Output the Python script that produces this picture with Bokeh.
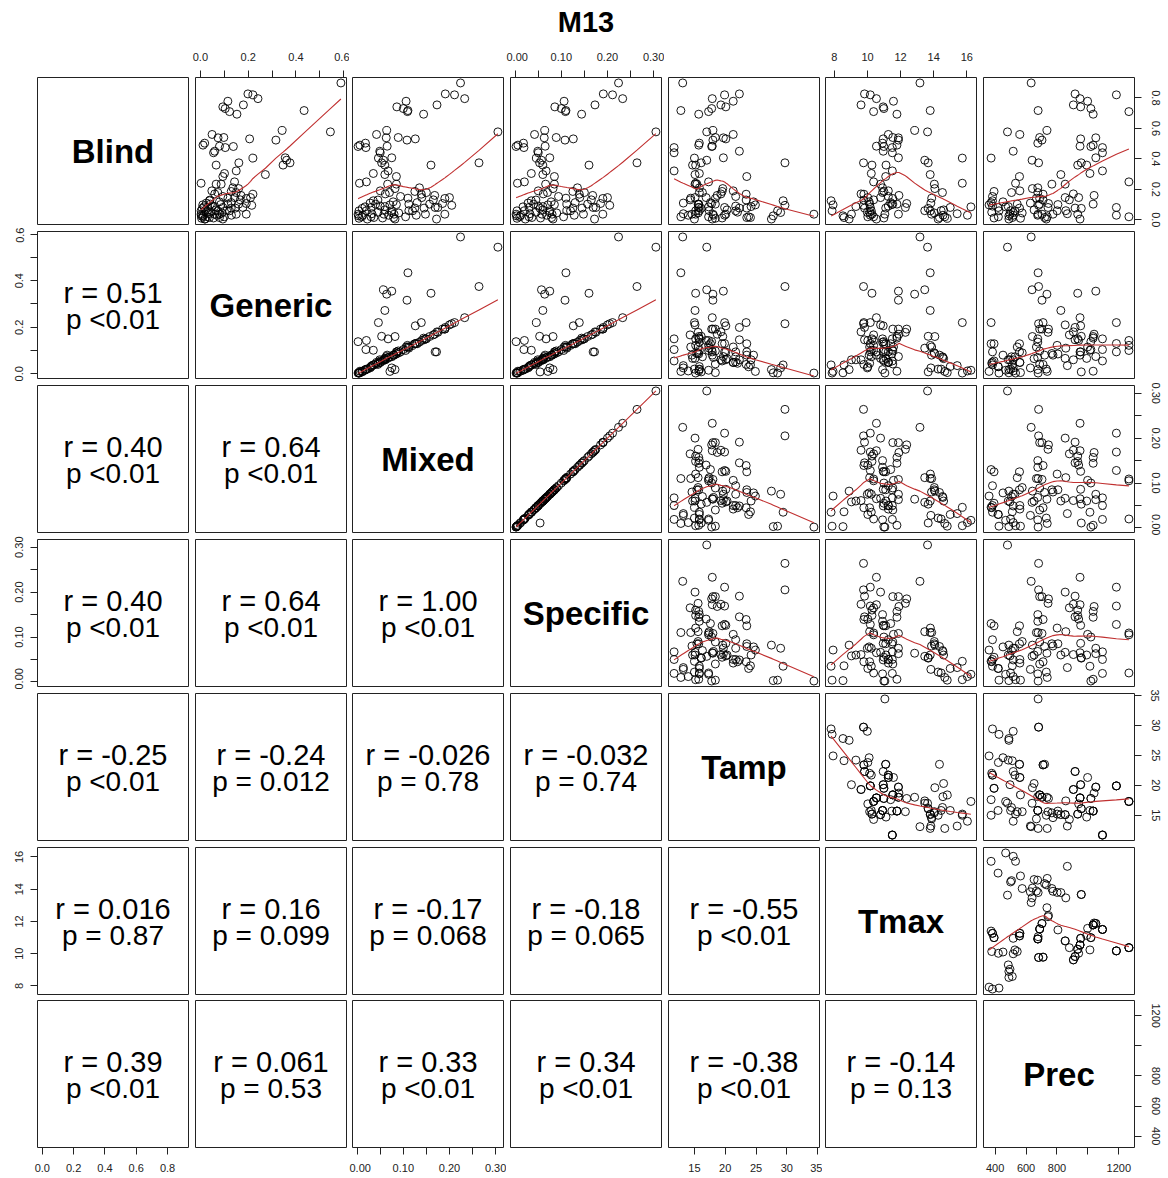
import numpy as np
from bokeh.plotting import figure
from bokeh.layouts import gridplot, column
from bokeh.models import Range1d, LinearAxis, FixedTicker
from bokeh.core.properties import value
from bokeh.embed import file_html
from bokeh.resources import INLINE

FONT = "Liberation Sans"
title_text = "M13"
names = ["Blind", "Generic", "Mixed", "Specific", "Tamp", "Tmax", "Prec"]

# ---- climate values per site ----
site_prec = [361, 383, 425, 374, 383, 393, 378, 421, 374, 419,
             451, 468, 517, 532, 506, 500, 489, 489, 511, 485,
             496, 517, 528, 543, 517, 558, 560, 564, 575, 480,
             628, 639, 633, 667, 678, 675, 720, 767, 735, 742,
             825, 857, 867, 957, 678, 676, 688, 703, 681, 710,
             806, 853, 880, 906, 917, 934, 949, 953, 992, 1019,
             998, 1034, 1051, 1094, 1013, 940, 1184, 1265, 1040, 641,
             652, 731, 737, 774, 801, 745]
site_tmax = [7.92, 7.80, 7.86, 11.40, 11.26, 10.99, 10.13, 10.02, 15.73, 15.00,
             10.10, 16.25, 16.04, 15.73, 14.53, 14.45, 8.52, 8.89, 8.58, 9.30,
             9.03, 9.99, 10.23, 10.13, 10.95, 11.10, 11.26, 14.82, 14.04, 13.63,
             13.83, 13.46, 13.17, 13.88, 13.79, 14.56, 14.35, 14.04, 12.85, 12.29,
             13.79, 13.46, 15.42, 13.67, 11.05, 10.91, 11.53, 11.87, 9.76, 9.78,
             11.47, 10.79, 10.37, 9.61, 9.82, 10.27, 10.54, 10.95, 11.12, 10.99,
             11.57, 11.78, 11.87, 11.50, 10.23, 10.02, 10.17, 10.37, 11.90, 14.07,
             14.60, 14.27, 14.67, 13.87, 13.80, 12.37]
site_tamp = [24.9, 29.4, 28.5, 17.6, 21.7, 19.5, 22.0, 23.8, 15.0, 15.8,
             24.6, 17.3, 14.0, 15.2, 16.3, 15.8, 27.8, 27.5, 24.1, 24.2,
             20.1, 29.0, 21.7, 15.6, 22.3, 23.5, 21.3, 18.4, 15.6, 17.0,
             13.2, 17.0, 13.1, 14.4, 12.8, 18.1, 23.5, 15.4, 18.0, 15.6,
             15.1, 17.4, 13.2, 16.1, 34.4, 15.8, 18.4, 18.0, 29.7, 23.4,
             15.7, 15.1, 14.3, 19.3, 22.3, 15.2, 17.9, 20.1, 14.7, 17.8,
             21.3, 15.7, 19.7, 11.7, 15.8, 16.9, 19.9, 17.3, 18.7, 19.6,
             20.3, 15.0, 12.8, 14.6, 15.2, 17.8]

# ---- observations ----
obs_site = [32, 54, 66, 56, 60, 53, 57, 59, 67, 61, 34,
            29, 38, 47, 26, 62, 46, 57, 45, 61, 56, 63, 59, 24, 63,
            8, 62, 31, 48, 55, 43, 58, 63, 64, 25, 40, 13, 51, 37, 67,
            69, 26, 14, 5, 49, 51, 4, 33, 65, 52, 46, 1, 10, 3, 61,
            75, 0, 19, 66, 25, 55, 47, 56, 2, 16, 17, 18, 20, 21, 22,
            23, 9, 54, 39, 45, 44, 72, 73, 74, 36, 68, 45, 53, 46,
            27, 12, 15, 7, 6, 4, 70, 30, 28, 67, 43, 42, 5, 35,
            41, 11, 49, 50, 71, 66, 48]
blind = [0.898, 0.826, 0.820, 0.795, 0.778, 0.754, 0.741, 0.730, 0.710, 0.693, 0.717,
         0.577, 0.586, 0.523, 0.560, 0.538, 0.540, 0.531, 0.503, 0.490, 0.483, 0.474, 0.481, 0.450, 0.440,
         0.405, 0.407, 0.391, 0.374, 0.359, 0.374, 0.359, 0.321, 0.304, 0.284, 0.297, 0.240, 0.234, 0.234, 0.249,
         0.205, 0.190, 0.179, 0.186, 0.168, 0.146, 0.153, 0.142, 0.146, 0.131, 0.140, 0.125, 0.118, 0.113, 0.103,
         0.107, 0.098, 0.087, 0.081, 0.077, 0.037, 0.037, 0.005, 0.059, 0.026, 0.005, 0.015, 0.037, 0.048, 0.059,
         0.103, 0.081, 0.077, 0.081, 0.179, 0.037, 0.020, 0.037, 0.059, 0.015, 0.160, 0.210, 0.170, 0.103,
         0.010, 0.030, 0.060, 0.020, 0.050, 0.090, 0.065, 0.110, 0.045, 0.020, 0.075, 0.040, 0.012, 0.030,
         0.060, 0.085, 0.130, 0.100, 0.005, 0.030, 0.095]
generic = [0.588, 0.199, 0.220, 0.241, 0.115, 0.180, 0.094, 0.104, 0.122, 0.153, 0.434,
           0.544, 0.342, 0.316, 0.049, 0.074, 0.098, 0.206, 0.018, 0.011, 0.080, 0.104, 0.138, 0.060, 0.055,
           0.220, 0.355, 0.361, 0.375, 0.346, 0.161, 0.066, 0.150, 0.101, 0.094, 0.272, 0.003, 0.066, 0.087, 0.143,
           0.160, 0.048, 0.073, 0.129, 0.220, 0.210, 0.094, 0.115, 0.143, 0.167, 0.192, 0.038, 0.080, 0.129, 0.160,
           0.192, 0.010, 0.060, 0.094, 0.129, 0.150, 0.192, 0.094, 0.003, 0.004, 0.018, 0.038, 0.060, 0.025, 0.073,
           0.115, 0.031, 0.146, 0.178, 0.150, 0.003, 0.010, 0.080, 0.122, 0.080, 0.170, 0.136, 0.060, 0.042,
           0.005, 0.012, 0.020, 0.030, 0.045, 0.050, 0.065, 0.025, 0.090, 0.100, 0.008, 0.035, 0.055, 0.070,
           0.110, 0.015, 0.040, 0.085, 0.020, 0.130, 0.215]
mixed = [0.224, 0.191, 0.211, 0.233, 0.106, 0.173, 0.086, 0.100, 0.109, 0.144, 0.110,
         0.305, 0.064, 0.108, 0.042, 0.063, 0.089, 0.126, 0.018, 0.006, 0.065, 0.019, 0.002, 0.049, 0.050,
         0.046, 0.075, 0.057, 0.264, 0.160, 0.053, 0.060, 0.067, 0.035, 0.085, 0.060, 0.005, 0.066, 0.085, 0.020,
         0.082, 0.050, 0.070, 0.125, 0.139, 0.200, 0.094, 0.110, 0.140, 0.165, 0.190, 0.035, 0.078, 0.130, 0.157,
         0.185, 0.071, 0.060, 0.169, 0.125, 0.148, 0.190, 0.172, 0.004, 0.003, 0.082, 0.036, 0.058, 0.075, 0.075,
         0.112, 0.030, 0.145, 0.175, 0.150, 0.002, 0.010, 0.080, 0.120, 0.079, 0.168, 0.135, 0.061, 0.040,
         0.004, 0.012, 0.020, 0.030, 0.045, 0.050, 0.060, 0.028, 0.090, 0.105, 0.011, 0.032, 0.055, 0.068,
         0.112, 0.017, 0.045, 0.085, 0.022, 0.128, 0.205]
specific = [0.224, 0.191, 0.211, 0.233, 0.106, 0.173, 0.086, 0.100, 0.109, 0.144, 0.110,
            0.305, 0.064, 0.108, 0.042, 0.063, 0.089, 0.126, 0.018, 0.006, 0.065, 0.019, 0.002, 0.049, 0.050,
            0.046, 0.075, 0.057, 0.264, 0.160, 0.053, 0.060, 0.067, 0.035, 0.085, 0.060, 0.005, 0.066, 0.085, 0.020,
            0.082, 0.050, 0.070, 0.125, 0.139, 0.200, 0.094, 0.110, 0.140, 0.165, 0.190, 0.035, 0.078, 0.130, 0.157,
            0.185, 0.071, 0.060, 0.169, 0.125, 0.148, 0.190, 0.172, 0.004, 0.003, 0.082, 0.036, 0.058, 0.075, 0.075,
            0.112, 0.030, 0.145, 0.175, 0.150, 0.002, 0.010, 0.080, 0.120, 0.079, 0.168, 0.135, 0.061, 0.040,
            0.004, 0.012, 0.020, 0.030, 0.045, 0.050, 0.060, 0.028, 0.090, 0.105, 0.054, 0.032, 0.055, 0.068,
            0.112, 0.017, 0.045, 0.085, 0.022, 0.128, 0.205]

# ---- correlation texts (lower triangle, row by row) ----
r_text = ["0.51",
          "0.40", "0.64",
          "0.40", "0.64", "1.00",
          "-0.25", "-0.24", "-0.026", "-0.032",
          "0.016", "0.16", "-0.17", "-0.18", "-0.55",
          "0.39", "0.061", "0.33", "0.34", "-0.38", "-0.14"]
p_text = ["<0.01",
          "<0.01", "<0.01",
          "<0.01", "<0.01", "<0.01",
          "<0.01", "= 0.012", "= 0.78", "= 0.74",
          "= 0.87", "= 0.099", "= 0.068", "= 0.065", "<0.01",
          "<0.01", "= 0.53", "<0.01", "<0.01", "<0.01", "= 0.13"]

# ---- axis ticks ----
axis_ticks = {
    "Blind": ([0.0, 0.2, 0.4, 0.6, 0.8], ["0.0", "0.2", "0.4", "0.6", "0.8"]),
    "Generic": ([0.0, 0.1, 0.2, 0.3, 0.4, 0.5, 0.6], ["0.0", "", "0.2", "", "0.4", "", "0.6"]),
    "Mixed": ([0.0, 0.05, 0.1, 0.15, 0.2, 0.25, 0.3], ["0.00", "", "0.10", "", "0.20", "", "0.30"]),
    "Specific": ([0.0, 0.05, 0.1, 0.15, 0.2, 0.25, 0.3], ["0.00", "", "0.10", "", "0.20", "", "0.30"]),
    "Tamp": ([15, 20, 25, 30, 35], ["15", "20", "25", "30", "35"]),
    "Tmax": ([8, 10, 12, 14, 16], ["8", "10", "12", "14", "16"]),
    "Prec": ([400, 600, 800, 1000, 1200], ["400", "600", "800", "", "1200"]),
}

idx = np.array(obs_site)
data = [np.array(blind, float), np.array(generic, float), np.array(mixed, float),
        np.array(specific, float), np.array(site_tamp, float)[idx],
        np.array(site_tmax, float)[idx], np.array(site_prec, float)[idx]]

lims = []
for v in data:
    lo, hi = float(v.min()), float(v.max())
    pad = 0.04 * (hi - lo)
    lims.append((lo - pad, hi + pad))


def lowess(x, y, f=2.0 / 3.0, it=3):
    o = np.argsort(x, kind="mergesort")
    x = np.asarray(x, float)[o]
    y = np.asarray(y, float)[o]
    n = len(x)
    ns = max(2, min(n, int(f * n + 1e-7)))
    rw = np.ones(n)
    fit = np.zeros(n)
    rng = x[-1] - x[0]
    for k in range(it + 1):
        for i in range(n):
            d = np.abs(x - x[i])
            h = max(np.sort(d)[ns - 1], 1e-12)
            u = d / h
            w = np.where(u < 0.999, (1 - u ** 3) ** 3, 0.0)
            w = np.where(u <= 0.001, 1.0, w) * rw
            sw = w.sum()
            if sw <= 0:
                fit[i] = y[i]
                continue
            w = w / sw
            xm = (w * x).sum()
            ym = (w * y).sum()
            b = (w * (x - xm) ** 2).sum()
            if np.sqrt(b) > 0.001 * rng:
                fit[i] = ym + (w * (x - xm) * (y - ym)).sum() / b * (x[i] - xm)
            else:
                fit[i] = ym
        if k == it:
            break
        res = np.abs(y - fit)
        cmad = 6 * np.median(res)
        if cmad < 1e-12:
            break
        u = res / cmad
        rw = np.where(u < 1, (1 - u ** 2) ** 2, 0.0)
    return x, fit


STANDOFF = {"above": 10, "below": 9, "left": 7, "right": 10}


def add_axis(p, var, side):
    t, labs = axis_ticks[var]
    ax = LinearAxis(ticker=FixedTicker(ticks=t, minor_ticks=[]),
                    bounds=(t[0], t[-1]),
                    major_label_overrides={tv: lb for tv, lb in zip(t, labs)})
    ax.axis_line_color = "#222222"
    ax.axis_line_width = 1
    ax.major_tick_line_color = "#222222"
    ax.major_tick_out = 7
    ax.major_tick_in = 0
    ax.minor_tick_out = 0
    ax.minor_tick_in = 0
    ax.major_label_text_font = FONT
    ax.major_label_text_font_size = "11px"
    ax.major_label_text_color = "#222222"
    ax.major_label_standoff = STANDOFF[side]
    if side in ("left", "right"):
        ax.major_label_orientation = "vertical"
    p.add_layout(ax, side)


FW, FH = 151, 147
gx = [7, 6, 7, 7, 6, 7]
gy = [7, 7, 7, 7, 7, 6]
TH = 38

li = 0
lower_pos = {}
for i in range(7):
    for j in range(i):
        lower_pos[(i, j)] = li
        li += 1

grid_rows = []
for i in range(7):
    row = []
    for j in range(7):
        bl = 37 if j == 0 else gx[j - 1] - 3
        br = 31 if j == 6 else 3
        bt = 77 - TH if i == 0 else gy[i - 1] - 3
        bb = 30 if i == 6 else 3
        p = figure(frame_width=FW, frame_height=FH,
                   x_range=Range1d(*lims[j]), y_range=Range1d(*lims[i]),
                   min_border_left=bl, min_border_right=br,
                   min_border_top=bt, min_border_bottom=bb,
                   toolbar_location=None, x_axis_location=None, y_axis_location=None,
                   output_backend="svg")
        p.grid.visible = False
        p.outline_line_color = "#222222"
        p.outline_line_width = 1
        p.outline_line_alpha = 1.0
        p.background_fill_color = "white"
        p.border_fill_color = "white"
        cx = 0.5 * (lims[j][0] + lims[j][1])
        cy = 0.5 * (lims[i][0] + lims[i][1])
        ky = (lims[i][1] - lims[i][0]) / FH
        if i == j:
            p.text(x=[cx], y=[cy], text=[names[i]],
                   text_font=value(FONT), text_font_style="bold", text_font_size="33px",
                   text_align="center", text_baseline="middle", text_color="black")
        elif i < j:
            p.scatter(data[j], data[i], marker="circle", size=8, fill_color=None,
                      line_color="black", line_width=1, line_alpha=0.9)
            lx, ly = lowess(data[j], data[i])
            p.line(lx, ly, line_color="#c03030", line_width=1.1)
        else:
            k = lower_pos[(i, j)]
            p.text(x=[cx], y=[cy + 12.5 * ky], text=["r = " + r_text[k]],
                   text_font=value(FONT), text_font_size="29px",
                   text_align="center", text_baseline="middle", text_color="black")
            p.text(x=[cx], y=[cy - 14.0 * ky], text=["p " + p_text[k]],
                   text_font=value(FONT), text_font_size="28px",
                   text_align="center", text_baseline="middle", text_color="black")
        if i == 0 and j in (1, 3, 5):
            add_axis(p, names[j], "above")
        if i == 6 and j in (0, 2, 4, 6):
            add_axis(p, names[j], "below")
        if j == 0 and i in (1, 3, 5):
            add_axis(p, names[i], "left")
        if j == 6 and i in (0, 2, 4, 6):
            add_axis(p, names[i], "right")
        row.append(p)
    grid_rows.append(row)

grid = gridplot(grid_rows, toolbar_location=None)

TW = 1160
tp = figure(width=TW, height=TH, x_range=Range1d(0, TW), y_range=Range1d(0, TH),
            toolbar_location=None, x_axis_location=None, y_axis_location=None,
            min_border=0, output_backend="svg")
tp.grid.visible = False
tp.outline_line_color = None
tp.text(x=[585.5], y=[TH - 21.2], text=[title_text], text_font=value(FONT), text_font_style="bold",
        text_font_size="29px", text_align="center", text_baseline="middle", text_color="black")

layout = column(tp, grid)
open("out.html", "w").write(file_html(layout, INLINE))
